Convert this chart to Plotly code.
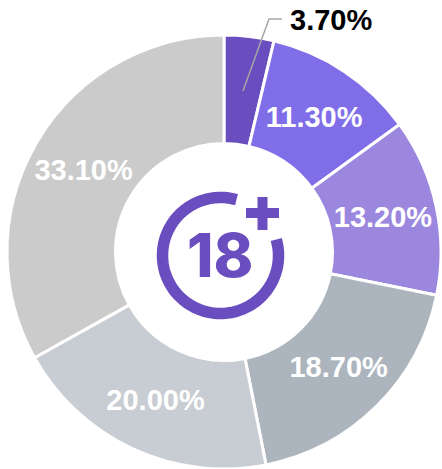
import numpy as np
import plotly.graph_objects as go

W, H = 442, 469
categories = ["A", "B", "C", "D", "E", "F"]
values = [3.7, 11.3, 13.2, 18.7, 20.0, 33.1]
labels = ["", "11.30%", "13.20%", "18.70%", "20.00%", "33.10%"]
callout = "3.70%"
colors = ["#6A4DBE", "#806EE8", "#9B87DE", "#ACB5BE", "#C8CCD3", "#CBCBCB"]
PURPLE = "#6A4DBE"

fig = go.Figure(go.Pie(
    labels=categories, values=values, text=labels, textinfo="text",
    textposition="inside", insidetextorientation="horizontal",
    textfont=dict(family="Liberation Sans", size=29, color="white", weight="bold"),
    marker=dict(colors=colors, line=dict(color="white", width=3)),
    hole=0.5, sort=False, direction="clockwise", rotation=0, showlegend=False,
    domain=dict(x=[6 / W, 442 / W], y=[0, 434 / H]),
))

# logo ring: open arc, angles measured clockwise from the right
a = np.radians(np.linspace(-16, 286, 150))
ring_r = 58
lcx, lcy = 220.5, 255.5
path = "M " + " L ".join(f"{lcx + ring_r * np.cos(t):.1f},{lcy + ring_r * np.sin(t):.1f}" for t in a)

shapes = [
    dict(type="path", path=path, line=dict(color=PURPLE, width=11.5), xref="x", yref="y"),
    dict(type="line", x0=246, x1=279, y0=213, y1=213, line=dict(color=PURPLE, width=10), xref="x", yref="y"),
    dict(type="line", x0=262.5, x1=262.5, y0=197, y1=230, line=dict(color=PURPLE, width=10), xref="x", yref="y"),
    dict(type="path", path="M 243,91 L 269,19 L 282,19", line=dict(color="#A6A6A6", width=1.5), xref="x", yref="y"),
]

fig.add_annotation(x=288, y=20, xref="x", yref="y", text=callout, showarrow=False, xanchor="left", yanchor="middle",
                   font=dict(family="Liberation Sans", size=29, color="black", weight="bold"))
fig.add_annotation(x=220, y=255, xref="x", yref="y", text="18", showarrow=False, xanchor="center", yanchor="middle",
                   font=dict(family="Inter", size=60, color=PURPLE, weight=800))

fig.update_layout(
    width=W, height=H, autosize=False, margin=dict(l=0, r=0, t=0, b=0),
    paper_bgcolor="white", plot_bgcolor="white", shapes=shapes,
    xaxis=dict(range=[0, W], visible=False, fixedrange=True, domain=[0, 1]),
    yaxis=dict(range=[H, 0], visible=False, fixedrange=True, domain=[0, 1]),
)
fig.write_html("out.html", config={"displayModeBar": False},
               post_script="document.body.style.margin='0';document.body.style.overflow='hidden';")
